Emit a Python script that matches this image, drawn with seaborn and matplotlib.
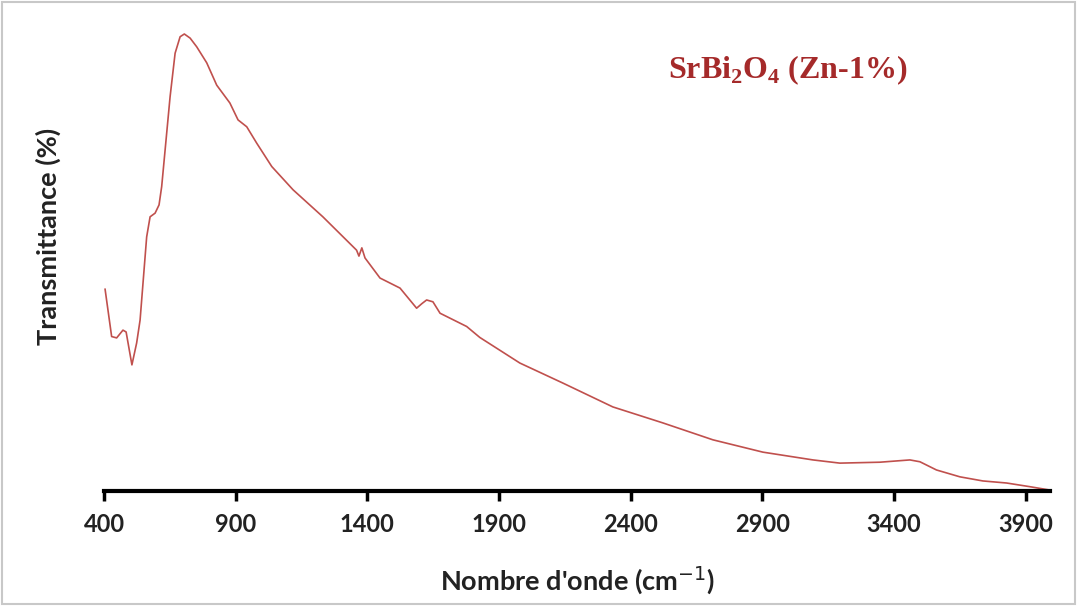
import matplotlib
matplotlib.use("Agg")
import matplotlib.pyplot as plt
import seaborn as sns
import pandas as pd
from matplotlib.patches import Rectangle

wavenumber = [404, 429, 448, 472, 484, 506, 524, 537, 562, 575, 594, 609, 619, 651, 670, 689,
              705, 727, 752, 790, 828, 878, 909, 942, 980, 1037, 1118, 1231, 1359, 1368, 1379,
              1391, 1448, 1524, 1587, 1607, 1625, 1649, 1676, 1777, 1827, 1979, 2143, 2332,
              2522, 2712, 2902, 3092, 3194, 3346, 3460, 3498, 3561, 3650, 3737, 3827, 3916, 3992]
transmittance = [44.2, 33.8, 33.5, 35.2, 34.8, 27.6, 32.4, 37.4, 55.6, 60.0, 60.8, 62.6, 66.6,
                 86.3, 95.8, 99.4, 100.0, 99.1, 97.2, 93.7, 88.8, 84.9, 81.2, 79.7, 76.1, 71.0,
                 65.9, 60.0, 52.7, 51.4, 53.2, 51.0, 46.6, 44.4, 40.0, 41.0, 41.8, 41.4, 38.9,
                 36.0, 33.6, 28.0, 23.6, 18.4, 14.9, 11.2, 8.5, 6.8, 6.1, 6.3, 6.8, 6.4, 4.6,
                 3.1, 2.2, 1.75, 0.94, 0.2]
xticks = [400, 900, 1400, 1900, 2400, 2900, 3400, 3900]

sns.set_style("white")
plt.rcParams['font.family'] = ['Lato', 'DejaVu Sans']
plt.rcParams['mathtext.fontset'] = 'custom'
plt.rcParams['mathtext.bf'] = 'Liberation Serif:bold'
plt.rcParams['mathtext.rm'] = 'Liberation Serif:bold'

df = pd.DataFrame({"wn": wavenumber, "T": transmittance})

fig = plt.figure(figsize=(10.77, 6.06), dpi=100)
ax = fig.add_axes([104/1077, 1-491/606, (1050-104)/1077, (491-20)/606])
sns.lineplot(data=df, x="wn", y="T", ax=ax, color="#C0504D", linewidth=1.2)

ax.set_xlim(400, 3992)
ax.set_ylim(0, (491-20)/4.57)
ax.set_xticks(xticks)
ax.set_xticklabels([str(t) for t in xticks], fontsize=17, fontweight='bold', color='#222222')
ax.set_yticks([])
for s in ['left', 'top', 'right']:
    ax.spines[s].set_visible(False)
ax.spines['bottom'].set_linewidth(3)
ax.spines['bottom'].set_color('black')
ax.tick_params(axis='x', direction='out', length=7, width=2.5, color='black', pad=9, bottom=True)

ax.set_xlabel("Nombre d'onde (cm$^{\\mathsf{-1}}$)", fontsize=19.5, fontweight='bold', color='#222222')
ax.set_ylabel("Transmittance (%)", fontsize=19.5, fontweight='bold', color='#222222')
ax.xaxis.set_label_coords((577-104)/946, -(580-491)/471)
ax.yaxis.set_label_coords(-(104-48)/946, (491-236)/471)
ax.xaxis.label.set_va('center')
ax.yaxis.label.set_va('center')

ax.text(2541, (491-70)/4.57, "SrBi$_2$O$_4$ (Zn-1%)", fontsize=23, fontweight='bold',
        family='Liberation Serif', color='#A52A2A', va='center', ha='left')

fig.patches.append(Rectangle((0.002, 0.003), 0.996, 0.994, transform=fig.transFigure,
                             fill=False, edgecolor='#c8c8c8', linewidth=1.5))

fig.savefig("out.png", dpi=100)
